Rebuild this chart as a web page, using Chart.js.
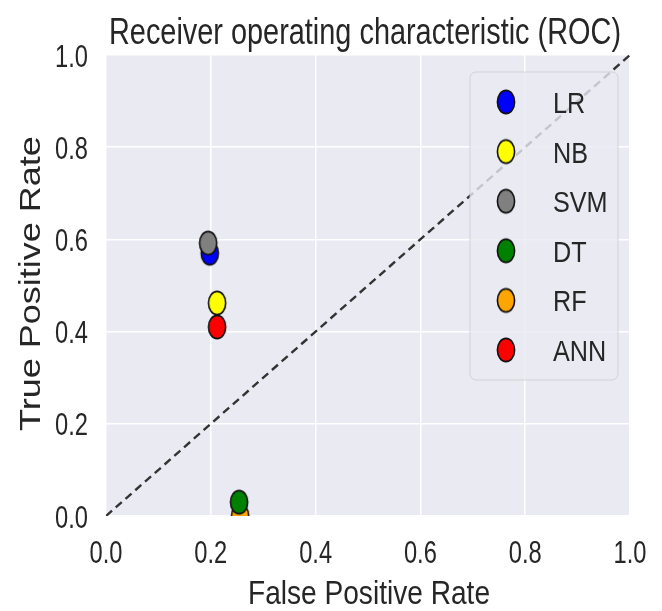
<!DOCTYPE html>
<html>
<head>
<meta charset="utf-8">
<script src="https://cdn.jsdelivr.net/npm/chart.js@4"></script>
<style>
  html, body { margin: 0; padding: 0; background: #fff; }
  #wrap { width: 662px; height: 611px; }
</style>
</head>
<body>
<div id="wrap"><canvas id="roc" width="662" height="611"></canvas></div>
<script>
// ===== ROC scatter =====

const models = ['LR', 'NB', 'SVM', 'DT', 'RF', 'ANN'];
const fpr    = [0.198, 0.212, 0.195, 0.254, 0.256, 0.212];
const tpr    = [0.570, 0.462, 0.592, 0.030, 0.000, 0.410];
const colors = ['#0000FF', '#FFFF00', '#808080', '#008000', '#FFA500', '#FF0000'];
const drawOrder = [5, 4, 3, 1, 2, 0];   // lower = drawn on top

const diagX = [0, 1];
const diagY = [0, 1];

const tickVals   = [0, 0.2, 0.4, 0.6, 0.8, 1.0];
const tickLabels = ['0.0', '0.2', '0.4', '0.6', '0.8', '1.0'];

const titleText  = 'Receiver operating characteristic (ROC)';
const xTitleText = 'False Positive Rate';
const yTitleText = 'True Positive Rate';

const SANS  = "'Liberation Sans', Arial, sans-serif";
const INK   = '#262626';
const AX_BG = '#EAEAF2';

// the source figure is squeezed sideways, so text gets a horizontal scale
function squeezed(ctx, text, x, y, size, sx, align, baseline) {
  ctx.save();
  ctx.font = `${size}px ${SANS}`;
  ctx.fillStyle = INK;
  ctx.textAlign = align;
  ctx.textBaseline = baseline;
  ctx.translate(x, y);
  ctx.scale(sx, 1);
  ctx.fillText(text, 0, 0);
  ctx.restore();
}

function fitScale(ctx, text, size, width) {
  ctx.save();
  ctx.font = `${size}px ${SANS}`;
  const w = ctx.measureText(text).width;
  ctx.restore();
  return width / w;
}

function marker(color) {
  const c = document.createElement('canvas');
  c.width = 22; c.height = 28;
  const g = c.getContext('2d');
  g.beginPath();
  g.ellipse(11, 14, 8.6, 11.6, 0, 0, Math.PI * 2);
  g.fillStyle = color;
  g.fill();
  g.lineWidth = 1.6;
  g.strokeStyle = '#111';
  g.stroke();
  return c;
}

const pluginAxBg = {
  id: 'axBg',
  beforeDraw(chart) {
    const { ctx, chartArea: { left, top, right, bottom } } = chart;
    ctx.save();
    ctx.fillStyle = AX_BG;
    ctx.fillRect(left, top, right - left, bottom - top);
    ctx.restore();
  }
};

const pluginText = {
  id: 'squeezedText',
  afterDraw(chart) {
    const { ctx, chartArea: { left, right, top, bottom } } = chart;
    const xs = chart.scales.x, ys = chart.scales.y;
    const cx = (left + right) / 2;

    // title
    squeezed(ctx, titleText, cx - 3, 44, 36, fitScale(ctx, titleText, 36, 512), 'center', 'alphabetic');

    // tick labels
    tickVals.forEach((v, i) => {
      squeezed(ctx, tickLabels[i], xs.getPixelForValue(v), bottom + 47, 32, 0.74, 'center', 'alphabetic');
      squeezed(ctx, tickLabels[i], 88, ys.getPixelForValue(v) + 11.5, 32, 0.74, 'right', 'alphabetic');
    });

    // axis titles
    squeezed(ctx, xTitleText, cx + 1, 604, 34, fitScale(ctx, xTitleText, 34, 242), 'center', 'alphabetic');

    ctx.save();
    ctx.font = `36px ${SANS}`;
    ctx.fillStyle = INK;
    ctx.textAlign = 'center';
    ctx.textBaseline = 'alphabetic';
    ctx.translate(40, (top + bottom) / 2 - 2);
    ctx.scale(0.81, 1);
    ctx.rotate(-Math.PI / 2);
    ctx.fillText(yTitleText, 0, 0);
    ctx.restore();
  }
};

const pluginLegendBox = {
  id: 'legendBox',
  afterDraw(chart) {
    const { ctx } = chart;
    const x = 470, y = 72, w = 148, h = 308, r = 6;
    ctx.save();
    ctx.beginPath();
    ctx.roundRect(x, y, w, h, r);
    ctx.fillStyle = 'rgba(234,234,242,0.8)';
    ctx.fill();
    ctx.lineWidth = 1;
    ctx.strokeStyle = 'rgba(204,204,204,0.8)';
    ctx.stroke();
    ctx.restore();
    chart.data.datasets.forEach((ds, i) => {
      if (!models.includes(ds.label)) return;
      const cy = 102 + i * 49.6;
      ctx.drawImage(ds.pointStyle, 506 - 11, cy - 14);
      squeezed(ctx, ds.label, 553, cy + 11, 30, 0.84, 'left', 'alphabetic');
    });
  }
};

const scatterSets = models.map((m, i) => ({
  type: 'scatter',
  label: m,
  data: [{ x: fpr[i], y: tpr[i] }],
  pointStyle: marker(colors[i]),
  pointRadius: 11,
  pointHoverRadius: 11,
  order: drawOrder[i],
  clip: 0
}));

const diagSet = {
  type: 'line',
  label: 'chance',
  data: diagX.map((x, i) => ({ x, y: diagY[i] })),
  borderColor: '#333333',
  borderWidth: 2.4,
  borderDash: [8, 5],
  pointRadius: 0,
  fill: false,
  order: 10,
  clip: 0
};

function fixTicks(scale) {
  scale.ticks = tickVals.map(v => ({ value: v }));
}

new Chart(document.getElementById('roc'), {
  type: 'scatter',
  data: { datasets: [...scatterSets, diagSet] },
  options: {
    responsive: false,
    animation: false,
    layout: { padding: { left: 0, top: 55, right: 32, bottom: 0 } },
    plugins: {
      legend: { display: false },
      tooltip: { enabled: false },
      title: { display: false }
    },
    scales: {
      x: {
        type: 'linear', min: 0, max: 1,
        afterBuildTicks: fixTicks,
        afterFit: s => { s.height = 95; },
        border: { display: false },
        grid: { color: '#FFFFFF', lineWidth: 1.5, drawTicks: false },
        ticks: { display: false }
      },
      y: {
        type: 'linear', min: 0, max: 1,
        afterBuildTicks: fixTicks,
        afterFit: s => { s.width = 106; },
        border: { display: false },
        grid: { color: '#FFFFFF', lineWidth: 1.5, drawTicks: false },
        ticks: { display: false }
      }
    }
  },
  plugins: [pluginAxBg, pluginText, pluginLegendBox]
});
</script>
</body>
</html>
